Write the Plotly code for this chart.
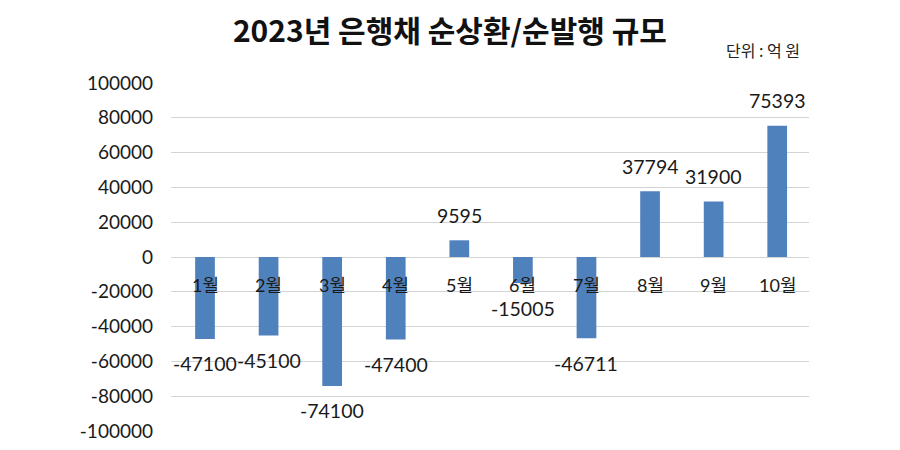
import plotly.graph_objects as go

months = ["1월", "2월", "3월", "4월", "5월", "6월", "7월", "8월", "9월", "10월"]
values = [-47100, -45100, -74100, -47400, 9595, -15005, -46711, 37794, 31900, 75393]
y_ticks = [100000, 80000, 60000, 40000, 20000, 0, -20000, -40000, -60000, -80000, -100000]

FONT = "Lato, 'Noto Sans CJK KR', sans-serif"
KFONT = "'Noto Sans CJK KR', sans-serif"

fig = go.Figure()
fig.add_trace(go.Bar(
    x=months, y=values,
    marker=dict(color="#4f81bd", line=dict(width=0)),
    width=0.31,
    hoverinfo="x+y",
))

annotations = []
for m, v in zip(months, values):
    annotations.append(dict(
        x=m, y=v, xref="x", yref="y", text=str(v), showarrow=False,
        yshift=25 if v >= 0 else -25,
        font=dict(family=FONT, size=19.5, color="#1a1a1a"),
    ))
    annotations.append(dict(
        x=m, y=0, xref="x", yref="y", text=m, showarrow=False,
        yshift=-28,
        font=dict(family=FONT, size=18, color="#1a1a1a"),
    ))

annotations.append(dict(
    x=0.989, y=1.095, xref="paper", yref="paper", xanchor="right", yanchor="middle",
    text="단위 : 억 원", showarrow=False,
    font=dict(family=KFONT, size=16, color="#222222"),
))

fig.update_layout(
    width=900, height=450,
    margin=dict(l=163, r=99, t=75, b=27),
    paper_bgcolor="white", plot_bgcolor="white",
    showlegend=False,
    title=dict(
        text="<b>2023년 은행채 순상환/순발행 규모</b>",
        x=0.491, xanchor="center", xref="container",
        y=1 - 23 / 450, yanchor="middle", yref="container",
        font=dict(family=KFONT, size=30, color="#111111"),
    ),
    annotations=annotations,
    xaxis=dict(showticklabels=False, showgrid=False, zeroline=False, showline=False,
               ticks=""),
    yaxis=dict(
        range=[-100000, 100000],
        tickvals=y_ticks, ticktext=[str(t) for t in y_ticks],
        showgrid=True, gridcolor="#d4d4d4", gridwidth=1.3,
        zeroline=True, zerolinecolor="#d4d4d4", zerolinewidth=1.3,
        showline=False, ticks="",
        tickfont=dict(family=FONT, size=19, color="#1a1a1a"),
        ticklabelstandoff=17,
    ),
)

fig.write_html("out.html")
